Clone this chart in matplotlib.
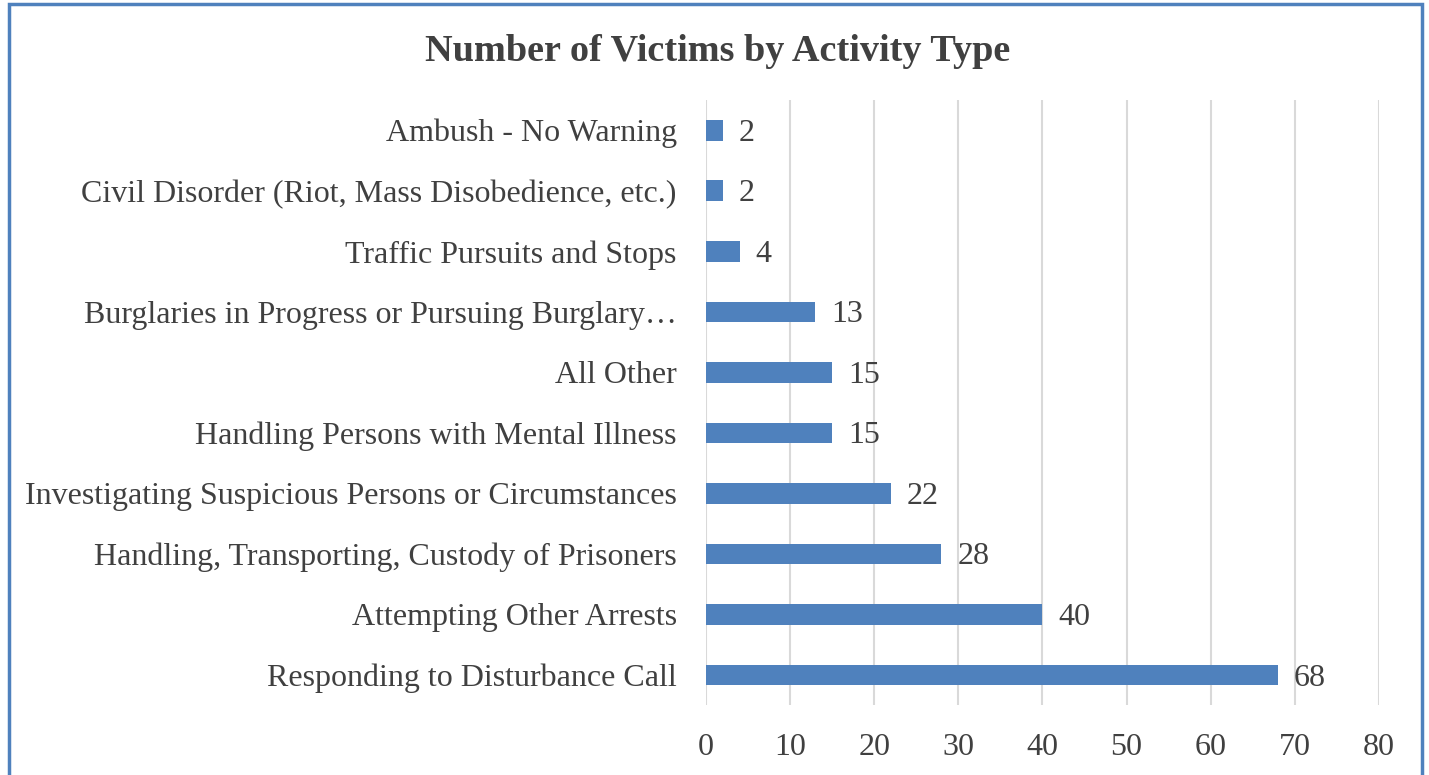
import matplotlib.pyplot as plt
from matplotlib.patches import Rectangle

# activity types, bottom to top
categorias = [
    "Responding to Disturbance Call",
    "Attempting Other Arrests",
    "Handling, Transporting, Custody of Prisoners",
    "Investigating Suspicious Persons or Circumstances",
    "Handling Persons with Mental Illness",
    "All Other",
    "Burglaries in Progress or Pursuing Burglary\u2026",
    "Traffic Pursuits and Stops",
    "Civil Disorder (Riot, Mass Disobedience, etc.)",
    "Ambush - No Warning",
]
victimas = [68, 40, 28, 22, 15, 15, 13, 4, 2, 2]
ticks_x = [0, 10, 20, 30, 40, 50, 60, 70, 80]

plt.rcParams['font.family'] = ['Liberation Serif', 'DejaVu Serif']
gris = '#404040'
azul = '#4F81BD'

fig = plt.figure(figsize=(14.29, 7.75), dpi=100)
ax = fig.add_axes([0.494, 0.090, 0.471, 0.781])

y = list(range(len(categorias)))
ax.barh(y, victimas, height=0.34, color=azul, zorder=3)
for yi, v in zip(y, victimas):
    ax.text(v + 1.9, yi - 0.05, str(v), va='center', ha='left', fontsize=23, color=gris)

ax.set_xlim(0, 80)
ax.set_ylim(-0.5, len(categorias) - 0.5)
ax.set_xticks(ticks_x)
ax.set_yticks(y)
ax.set_yticklabels(categorias)
ax.tick_params(axis='both', length=0, labelsize=23, labelcolor=gris)
ax.tick_params(axis='y', pad=21)
ax.tick_params(axis='x', pad=20)
ax.grid(axis='x', color='#D9D9D9', linewidth=1.5, zorder=0)
for s in ax.spines.values():
    s.set_visible(False)

fig.text(0.502, 0.934, "Number of Victims by Activity Type", ha='center', va='center',
         fontsize=27.5, fontweight='bold', color=gris)

# chart border
fig.patches.append(Rectangle((0.006, -0.01), 0.989, 1.005, transform=fig.transFigure,
                             fill=False, edgecolor=azul, linewidth=2.5))

fig.savefig('out.png', dpi=100)
